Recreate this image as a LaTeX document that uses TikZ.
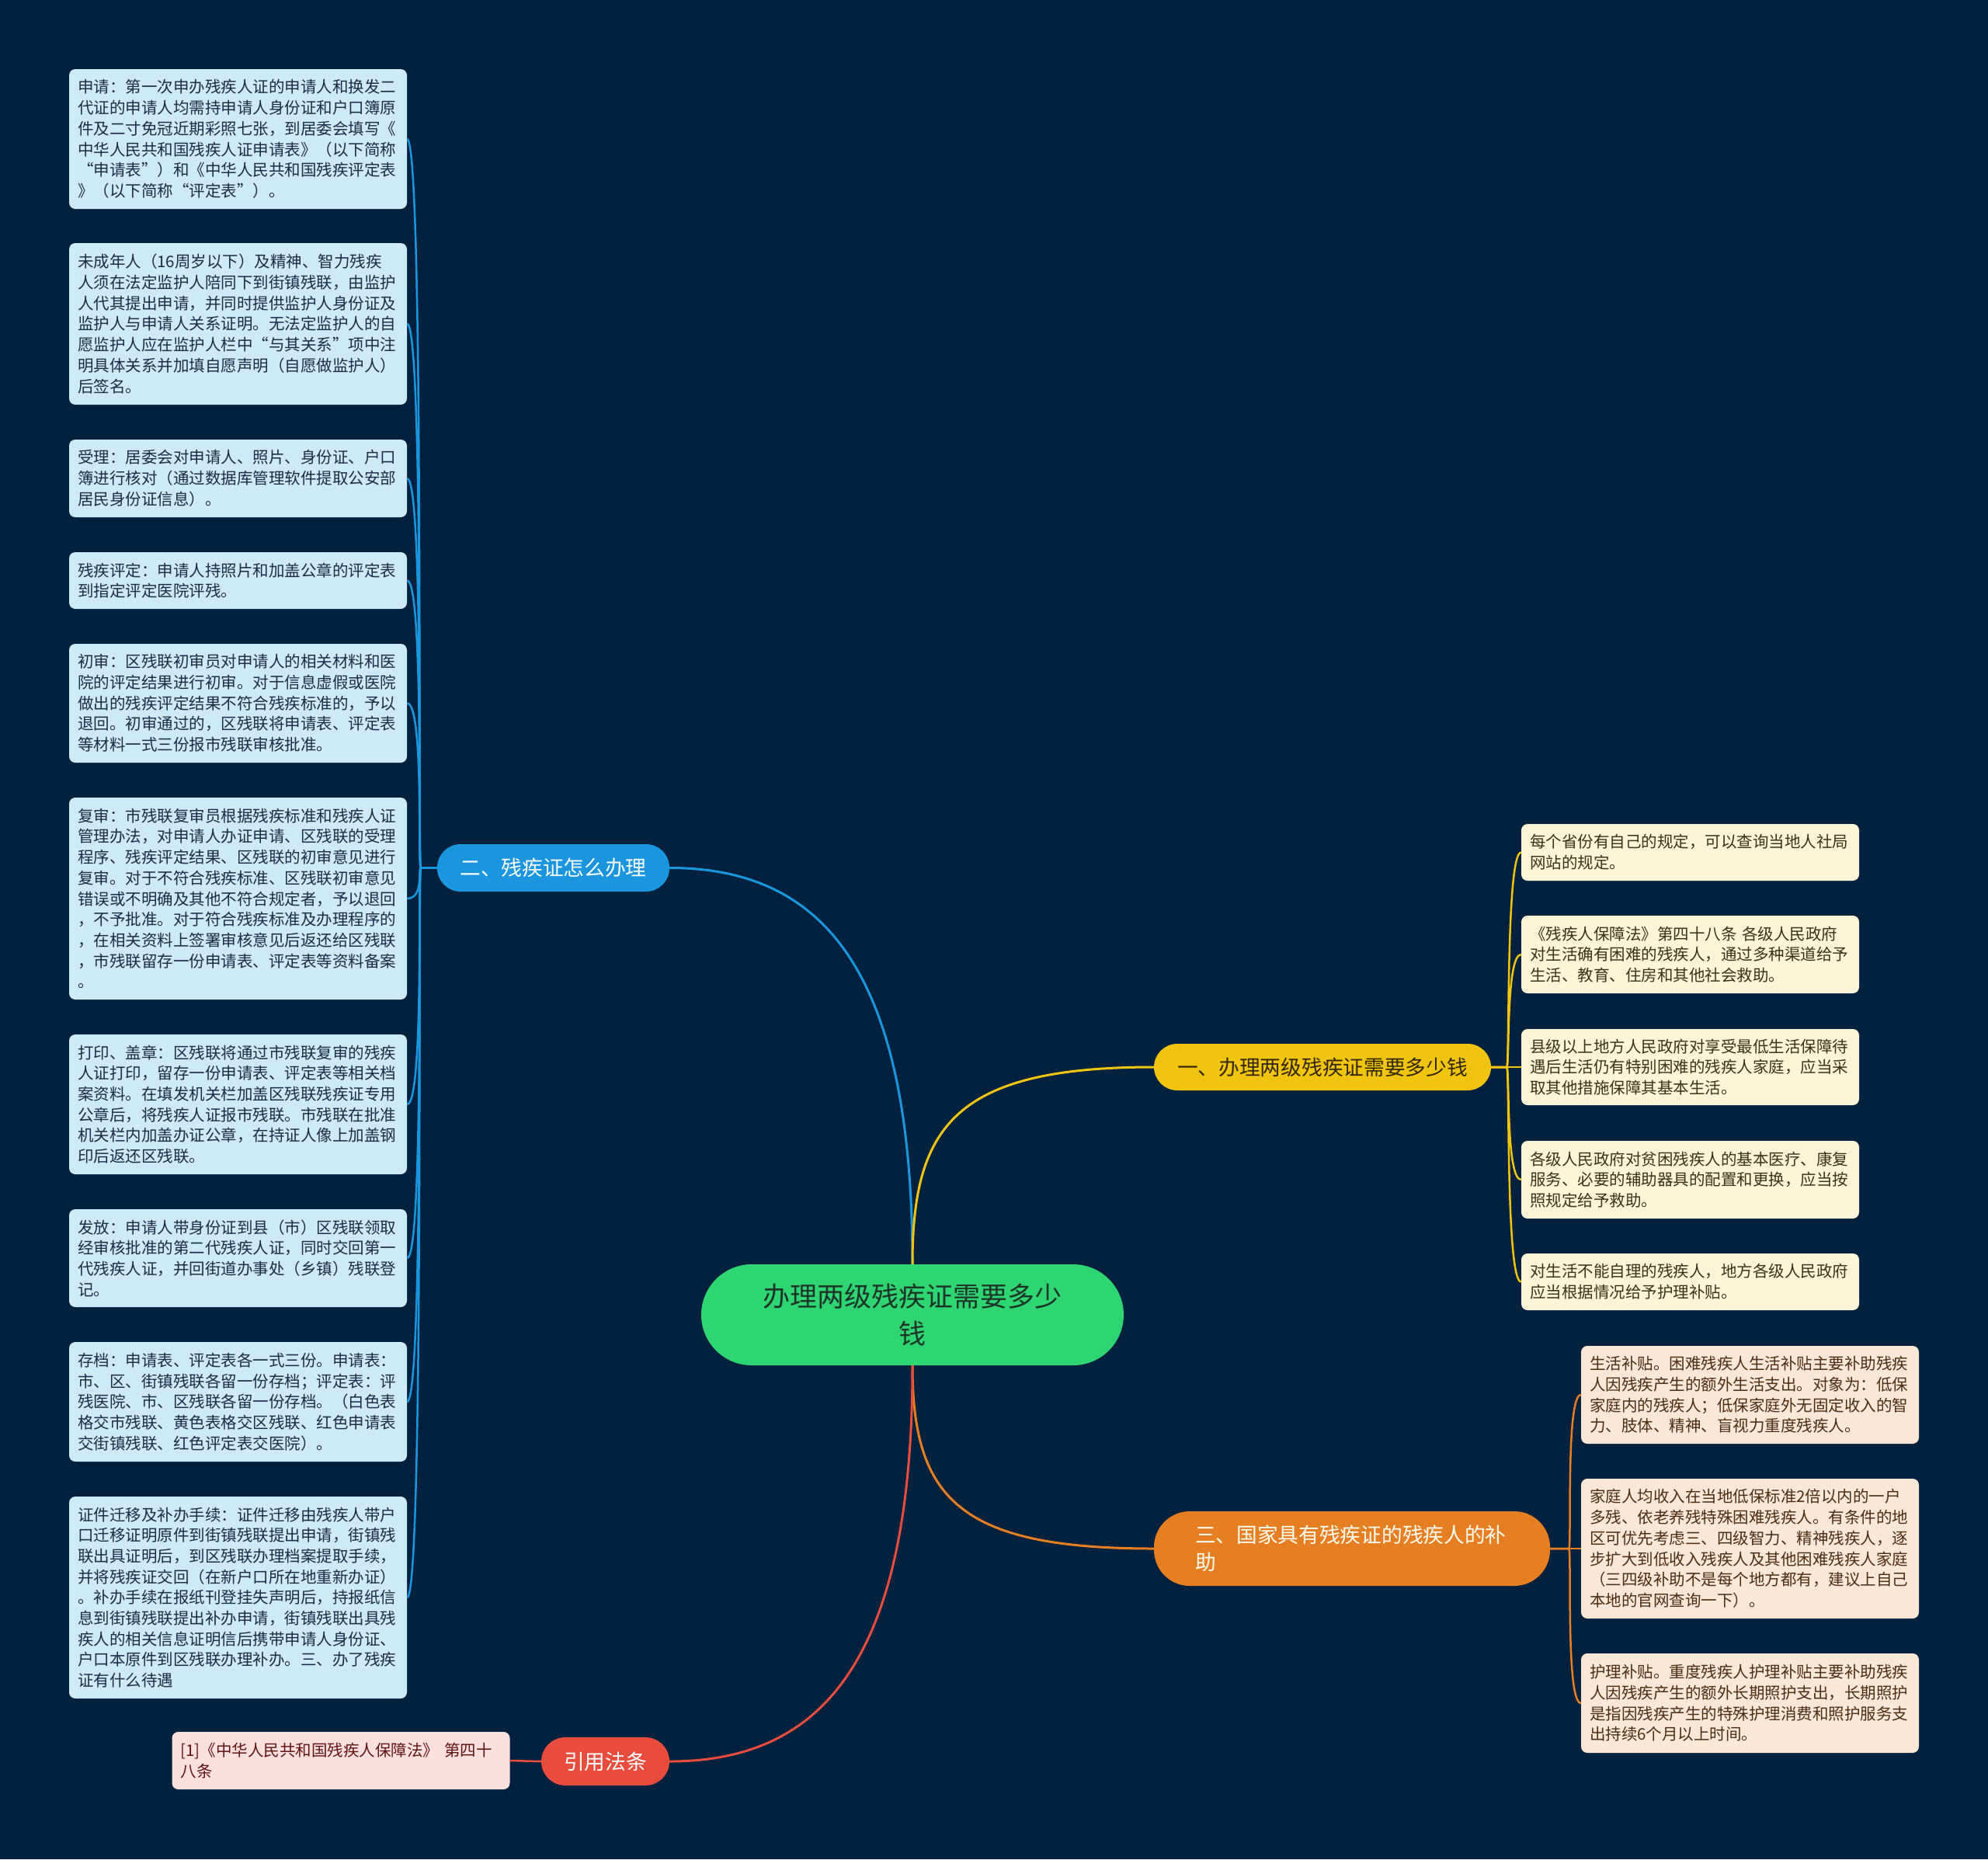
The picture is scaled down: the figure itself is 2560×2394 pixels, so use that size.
\documentclass[tikz,border=0pt]{standalone}
\usepackage{fontspec}
\setmainfont{Noto Sans CJK SC}
\definecolor{bgc}{RGB}{2,33,63}
\definecolor{rootc}{RGB}{46,213,115}
\definecolor{roottxt}{RGB}{30,52,40}
\definecolor{yelc}{RGB}{241,196,15}
\definecolor{yeltxt}{RGB}{50,40,5}
\definecolor{orac}{RGB}{230,126,34}
\definecolor{blc}{RGB}{26,150,222}
\definecolor{redc}{RGB}{231,76,60}
\definecolor{lboxc}{RGB}{206,233,248}
\definecolor{ltxt}{RGB}{25,45,70}
\definecolor{yboxc}{RGB}{253,245,216}
\definecolor{ytxt}{RGB}{60,50,20}
\definecolor{oboxc}{RGB}{251,231,213}
\definecolor{otxt}{RGB}{75,45,20}
\definecolor{rboxc}{RGB}{252,224,221}
\definecolor{rtxt}{RGB}{95,20,20}
\newcommand\boxfont{\fontsize{20.5pt}{26.7pt}\selectfont}
\newcommand\brfont{\fontsize{26.7pt}{35pt}\selectfont}
\newcommand\rootfont{\fontsize{35pt}{48pt}\selectfont}
\tikzset{
  leafbox/.style={rounded corners=8pt, align=left, text width=413pt, inner xsep=11pt, inner ysep=3pt, minimum width=435pt, font=\boxfont},
  lbox/.style={leafbox, fill=lboxc, text=ltxt},
  ybox/.style={leafbox, fill=yboxc, text=ytxt},
  obox/.style={leafbox, fill=oboxc, text=otxt},
  rbox/.style={leafbox, fill=rboxc, text=rtxt},
  branch/.style={align=center, inner sep=0pt, font=\brfont},
  bl/.style={draw=blc, line width=2.5pt},
  yl/.style={draw=yelc, line width=2.5pt},
  ol/.style={draw=orac, line width=2.5pt},
  rl/.style={draw=redc, line width=2.5pt},
}
\begin{document}
\begin{tikzpicture}[x=1pt,y=-1pt]
\fill[bgc] (0,0) rectangle (2560,2394);
\useasboundingbox (0,0) rectangle (2560,2394);

% root
\node[fill=rootc, text=roottxt, rounded corners=65pt, minimum width=544pt, minimum height=130pt, align=center, inner sep=0pt, font=\rootfont] (root) at (1175,1693) {办理两级残疾证需要多少\\钱};

% branches
\node[branch, fill=yelc, text=yeltxt, rounded corners=30pt, minimum width=434pt, minimum height=60pt] (n1) at (1703,1374) {一、办理两级残疾证需要多少钱};
\node[branch, fill=blc, text=white, rounded corners=30pt, minimum width=299pt, minimum height=61pt] (n2) at (712.5,1117.5) {二、残疾证怎么办理};
\node[fill=orac, text=white!95!yellow, rounded corners=46pt, minimum width=510pt, minimum height=96pt, align=left, text width=404pt, inner xsep=53pt, inner ysep=0pt, font=\brfont] (n3) at (1741,1994) {三、国家具有残疾证的残疾人的补\\助};
\node[branch, fill=redc, text=white, rounded corners=31pt, minimum width=165pt, minimum height=62pt] (n4) at (779.5,2268) {引用法条};

% main connectors
\draw[bl, line width=3pt] (root.north) .. controls +(0,-378) and +(198,0) .. (n2.east);
\draw[yl, line width=3pt] (root.north) .. controls +(0,-178) and +(-256,0) .. (n1.west);
\draw[ol, line width=3pt] (root.south) .. controls +(0,172) and +(-250,0) .. (n3.west);
\draw[rl, line width=3pt] (root.south) .. controls +(0,378) and +(198,0) .. (n4.east);

% left (blue) leaves
\node[lbox, minimum height=180pt] (b1) at (306.5,179) {申请：第一次申办残疾人证的申请人和换发二\\代证的申请人均需持申请人身份证和户口簿原\\件及二寸免冠近期彩照七张，到居委会填写《\\中华人民共和国残疾人证申请表》（以下简称\\“申请表”）和《中华人民共和国残疾评定表\\》（以下简称“评定表”）。};
\node[lbox, minimum height=208pt] (b2) at (306.5,417) {未成年人（16周岁以下）及精神、智力残疾\\人须在法定监护人陪同下到街镇残联，由监护\\人代其提出申请，并同时提供监护人身份证及\\监护人与申请人关系证明。无法定监护人的自\\愿监护人应在监护人栏中“与其关系”项中注\\明具体关系并加填自愿声明（自愿做监护人）\\后签名。};
\node[lbox, minimum height=100pt] (b3) at (306.5,616) {受理：居委会对申请人、照片、身份证、户口\\簿进行核对（通过数据库管理软件提取公安部\\居民身份证信息）。};
\node[lbox, minimum height=73pt] (b4) at (306.5,747.5) {残疾评定：申请人持照片和加盖公章的评定表\\到指定评定医院评残。};
\node[lbox, minimum height=153pt] (b5) at (306.5,905.5) {初审：区残联初审员对申请人的相关材料和医\\院的评定结果进行初审。对于信息虚假或医院\\做出的残疾评定结果不符合残疾标准的，予以\\退回。初审通过的，区残联将申请表、评定表\\等材料一式三份报市残联审核批准。};
\node[lbox, minimum height=260pt] (b6) at (306.5,1157) {复审：市残联复审员根据残疾标准和残疾人证\\管理办法，对申请人办证申请、区残联的受理\\程序、残疾评定结果、区残联的初审意见进行\\复审。对于不符合残疾标准、区残联初审意见\\错误或不明确及其他不符合规定者，予以退回\\，不予批准。对于符合残疾标准及办理程序的\\，在相关资料上签署审核意见后返还给区残联\\，市残联留存一份申请表、评定表等资料备案\\。};
\node[lbox, minimum height=180pt] (b7) at (306.5,1422) {打印、盖章：区残联将通过市残联复审的残疾\\人证打印，留存一份申请表、评定表等相关档\\案资料。在填发机关栏加盖区残联残疾证专用\\公章后，将残疾人证报市残联。市残联在批准\\机关栏内加盖办证公章，在持证人像上加盖钢\\印后返还区残联。};
\node[lbox, minimum height=126pt] (b8) at (306.5,1620) {发放：申请人带身份证到县（市）区残联领取\\经审核批准的第二代残疾人证，同时交回第一\\代残疾人证，并回街道办事处（乡镇）残联登\\记。};
\node[lbox, minimum height=154pt] (b9) at (306.5,1805) {存档：申请表、评定表各一式三份。申请表：\\市、区、街镇残联各留一份存档；评定表：评\\残医院、市、区残联各留一份存档。（白色表\\格交市残联、黄色表格交区残联、红色申请表\\交街镇残联、红色评定表交医院）。};
\node[lbox, minimum height=260pt] (b10) at (306.5,2057) {证件迁移及补办手续：证件迁移由残疾人带户\\口迁移证明原件到街镇残联提出申请，街镇残\\联出具证明后，到区残联办理档案提取手续，\\并将残疾证交回（在新户口所在地重新办证）\\。补办手续在报纸刊登挂失声明后，持报纸信\\息到街镇残联提出补办申请，街镇残联出具残\\疾人的相关信息证明信后携带申请人身份证、\\户口本原件到区残联办理补办。三、办了残疾\\证有什么待遇};

\foreach \c in {b1,b2,b3,b4,b5,b6,b7,b8,b9,b10}
  \draw[bl] (n2.west) -- ++(-21,0) .. controls +(-4,0) and +(22,0) .. (\c.east);

% right (yellow) leaves
\node[ybox, minimum height=73pt] (y1) at (2176.5,1097.5) {每个省份有自己的规定，可以查询当地人社局\\网站的规定。};
\node[ybox, minimum height=100pt] (y2) at (2176.5,1229) {《残疾人保障法》第四十八条 各级人民政府\\对生活确有困难的残疾人，通过多种渠道给予\\生活、教育、住房和其他社会救助。};
\node[ybox, minimum height=98pt] (y3) at (2176.5,1374) {县级以上地方人民政府对享受最低生活保障待\\遇后生活仍有特别困难的残疾人家庭，应当采\\取其他措施保障其基本生活。};
\node[ybox, minimum height=100pt] (y4) at (2176.5,1519) {各级人民政府对贫困残疾人的基本医疗、康复\\服务、必要的辅助器具的配置和更换，应当按\\照规定给予救助。};
\node[ybox, minimum height=73pt] (y5) at (2176.5,1650.5) {对生活不能自理的残疾人，地方各级人民政府\\应当根据情况给予护理补贴。};

\foreach \c in {y1,y2,y3,y4,y5}
  \draw[yl] (n1.east) -- ++(20,0) .. controls +(4,0) and +(-20,0) .. (\c.west);

% orange leaves
\node[obox, minimum height=126pt] (o1) at (2253.5,1796) {生活补贴。困难残疾人生活补贴主要补助残疾\\人因残疾产生的额外生活支出。对象为：低保\\家庭内的残疾人；低保家庭外无固定收入的智\\力、肢体、精神、盲视力重度残疾人。};
\node[obox, minimum height=180pt] (o2) at (2253.5,1994) {家庭人均收入在当地低保标准2倍以内的一户\\多残、依老养残特殊困难残疾人。有条件的地\\区可优先考虑三、四级智力、精神残疾人，逐\\步扩大到低收入残疾人及其他困难残疾人家庭\\（三四级补助不是每个地方都有，建议上自己\\本地的官网查询一下）。};
\node[obox, minimum height=128pt] (o3) at (2253.5,2193) {护理补贴。重度残疾人护理补贴主要补助残疾\\人因残疾产生的额外长期照护支出，长期照护\\是指因残疾产生的特殊护理消费和照护服务支\\出持续6个月以上时间。};

\foreach \c in {o1,o2,o3}
  \draw[ol] (n3.east) -- ++(24,0) .. controls +(4,0) and +(-20,0) .. (\c.west);

% red leaf
\node[rbox, minimum height=74pt] (r1) at (439,2267) {[1]《中华人民共和国残疾人保障法》 第四十\\八条};
\draw[rl] (n4.west) -- (r1.east);
\end{tikzpicture}
\end{document}
